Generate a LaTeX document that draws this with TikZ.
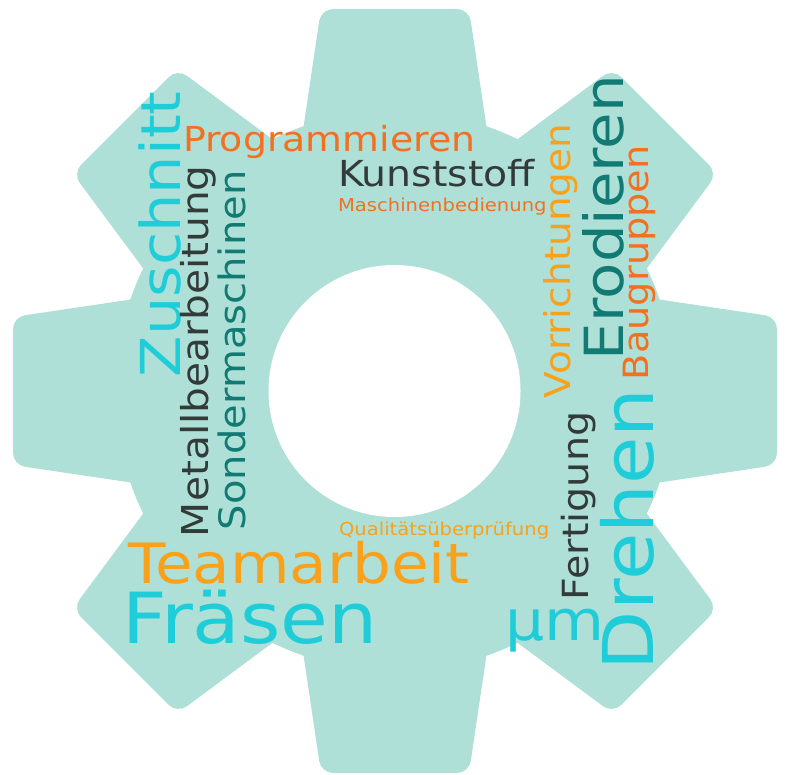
\documentclass[tikz,border=0pt]{standalone}
\usepackage{fontspec}
\setmainfont{DejaVu Sans}[FakeStretch=1.1]
\usepackage{tikz}

\definecolor{gearcol}{HTML}{AEE0D7}
\definecolor{wcyan}{HTML}{1FCDD9}
\definecolor{worange}{HTML}{F37021}
\definecolor{wamber}{HTML}{F9A11B}
\definecolor{wdark}{HTML}{333B3A}
\definecolor{wteal}{HTML}{117A73}

\newcommand{\fs}[1]{\fontsize{#1}{#1}\selectfont}

\begin{document}
\begin{tikzpicture}[x=1pt, y=-1pt,
  every node/.style = {inner sep=0pt, outer sep=0pt, anchor=base west},
  up/.style = {rotate=90}]
  \useasboundingbox (0,0) rectangle (805,775);
  % gear
  \fill[gearcol] (395,391) circle (280);
  \foreach \a in {0,45,...,315}
    \fill[gearcol, rounded corners=12pt, shift={(395,391)}, rotate=\a]
      (-101,200) -- (-74,382) -- (74,382) -- (101,200) -- cycle;
  \fill[white] (394.5,391) circle (126);

  % words
  \node[text=worange] (programmieren) at (183,152) {\fs{34.4}Programmieren};
  \node[text=wdark] (kunststoff) at (338,187) {\fs{35.8}Kunststoff};
  \node[text=worange] (bedienung) at (338,212) {\fs{17.8}Maschinenbedienung};
  \node[text=wamber] (qualitaet) at (339,535) {\fs{17.8}Qualitätsüberprüfung};
  \node[text=wamber] (teamarbeit) at (128,583) {\fs{55.6}Teamarbeit};
  \node[text=wcyan] (fraesen) at (122,643) {\fs{70.5}Fräsen};
  \node[text=wcyan] (mikro) at (505,640) {\fs{56}µm};

  \node[up, text=wcyan] (zuschnitt) at (180,377) {\fs{55}Zuschnitt};
  \node[up, text=wdark] (metall) at (208,537) {\fs{37}Metallbearbeitung};
  \node[up, text=wteal] (sonder) at (245,530) {\fs{36.4}Sondermaschinen};
  \node[up, text=wamber] (vorrichtungen) at (570,398) {\fs{35.5}Vorrichtungen};
  \node[up, text=wteal] (erodieren) at (623,360) {\fs{54}Erodieren};
  \node[up, text=worange] (baugruppen) at (648,380) {\fs{34.8}Baugruppen};
  \node[up, text=wdark] (fertigung) at (588,600) {\fs{36}Fertigung};
  \node[up, text=wcyan] (drehen) at (653,670) {\fs{70}Drehen};
\end{tikzpicture}
\end{document}
